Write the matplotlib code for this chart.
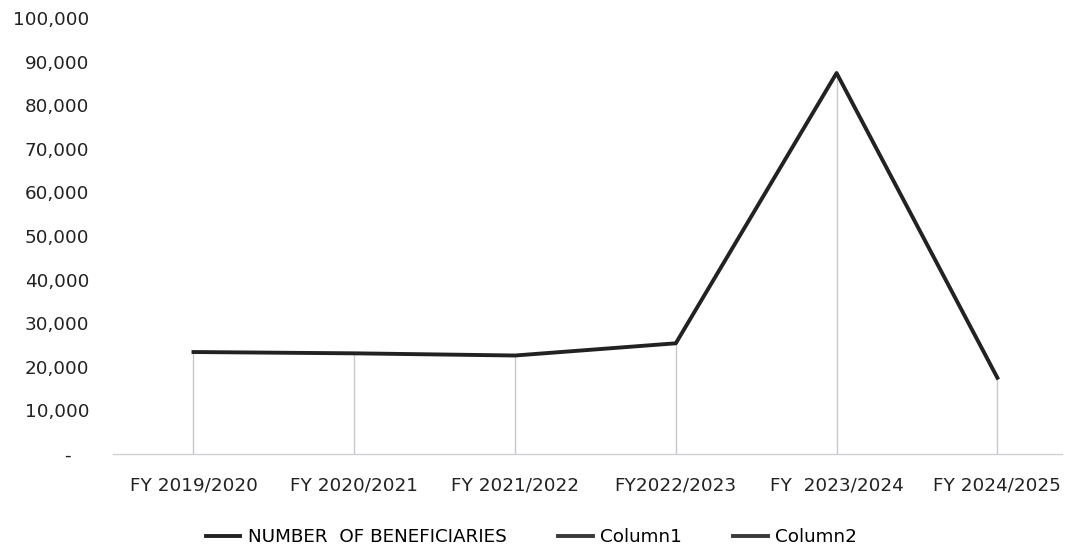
import matplotlib
matplotlib.use("Agg")
import matplotlib.pyplot as plt
import numpy as np

categories = ["FY 2019/2020", "FY 2020/2021", "FY 2021/2022", "FY2022/2023", "FY  2023/2024", "FY 2024/2025"]
beneficiaries = [23400, 23100, 22600, 25400, 87400, 17500]
column1 = [np.nan] * 6
column2 = [np.nan] * 6
yticks = [0, 10000, 20000, 30000, 40000, 50000, 60000, 70000, 80000, 90000, 100000]

plt.rcParams['font.family'] = ['DejaVu Sans']

fig = plt.figure(figsize=(10.67, 5.49), dpi=100)
ax = fig.add_axes([0.106, 0.173, 0.889, 0.794])

x = np.arange(len(categories))
ax.vlines(x, 0, beneficiaries, color="#c8c8d0", linewidth=1.0, zorder=1)
ax.plot(x, beneficiaries, color="#222222", linewidth=2.8, label="NUMBER  OF BENEFICIARIES", zorder=3)
ax.plot(x, column1, color="#3a3a3a", linewidth=2.8, label="Column1")
ax.plot(x, column2, color="#3a3a3a", linewidth=2.8, label="Column2")

ax.set_xlim(-0.5, 5.4)
ax.set_ylim(0, 100000)
ax.set_xticks(x)
ax.set_xticklabels(categories, fontsize=13.2, color="#222222")
ax.set_yticks(yticks)
ax.set_yticklabels(["-   " if v == 0 else f"{v:,}" for v in yticks], fontsize=13.2, color="#222222")
ax.tick_params(axis="both", length=0)
ax.tick_params(axis="y", pad=17)
ax.tick_params(axis="x", pad=16)

for s in ["top", "right", "left"]:
    ax.spines[s].set_visible(False)
ax.spines["bottom"].set_color("#cfcfd4")
ax.spines["bottom"].set_linewidth(1.0)

fig.legend(loc="lower center", bbox_to_anchor=(0.498, -0.025), ncol=3, frameon=False,
           fontsize=13.2, handlelength=1.9, columnspacing=2.8, handletextpad=0.4)

fig.savefig("out.png", dpi=100, facecolor="white")
